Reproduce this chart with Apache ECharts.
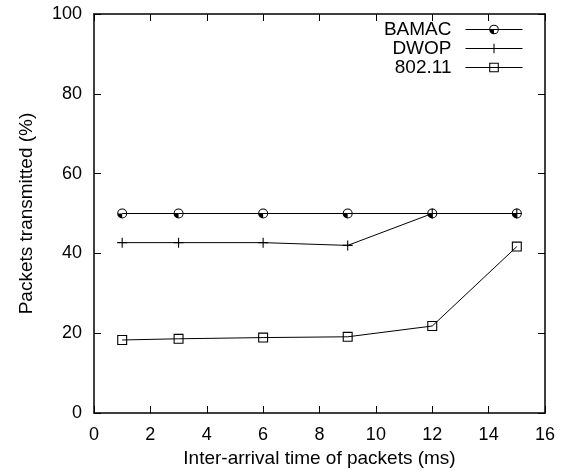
<!DOCTYPE html>
<html>
<head>
<meta charset="utf-8">
<script src="https://cdn.jsdelivr.net/npm/echarts@6/dist/echarts.min.js"></script>
<style>
  html, body { margin: 0; padding: 0; background: #fff; }
  #chart { width: 566px; height: 474px; }
</style>
</head>
<body>
<div id="chart"></div>
<script>
// Inter-arrival time of packets (ms)
const interArrival = [1, 3, 6, 9, 12, 15];
// Packets transmitted (%) per protocol
const bamac = [50, 50, 50, 50, 50, 50];
const dwop = [42.7, 42.7, 42.7, 42.0, 50, 50];
const ieee80211 = [18.3, 18.6, 18.9, 19.1, 21.8, 41.7];
const xTicks = [0, 2, 4, 6, 8, 10, 12, 14, 16];
const yTicks = [0, 20, 40, 60, 80, 100];

const FONT = '"Liberation Sans", Arial, Helvetica, sans-serif';

// Marker shapes: ring with a filled lower-left quadrant, thin plus, hollow square
const circleQuadrant = 'path://M0,10 A10,10 0 1,1 20,10 A10,10 0 1,1 0,10 Z ' +
  'M2,10 A8,8 0 1,0 18,10 A8,8 0 1,0 2,10 Z ' +
  'M10,10 L2,10 A8,8 0 0,0 10,18 Z';
const plusMark = 'path://M0,4.45 L10,4.45 L10,5.55 L0,5.55 Z M4.45,0 L5.55,0 L5.55,10 L4.45,10 Z';
const squareMark = 'path://M0,0 L10,0 L10,10 L0,10 Z M1.1,1.1 L1.1,8.9 L8.9,8.9 L8.9,1.1 Z';

const pairs = ys => interArrival.map((x, i) => [x, ys[i]]);

function lineSeries(name, ys, symbol, size) {
  return {
    name: name,
    type: 'line',
    data: pairs(ys),
    symbol: symbol,
    symbolSize: size,
    showSymbol: true,
    lineStyle: { color: '#000', width: 1 },
    itemStyle: { color: '#000', borderWidth: 0 },
    emphasis: { disabled: true },
    animation: false
  };
}

const axisLine = { show: true, onZero: false, lineStyle: { color: '#000', width: 1.5 } };
const innerTick = { show: true, inside: true, length: 7, lineStyle: { color: '#000', width: 1 } };

const chart = echarts.init(document.getElementById('chart'), null, { renderer: 'canvas' });
chart.setOption({
  backgroundColor: '#fff',
  animation: false,
  textStyle: { fontFamily: FONT },
  grid: { left: 94, right: 21, top: 14, bottom: 61, containLabel: false },
  legend: {
    orient: 'vertical',
    right: 43,
    top: 20,
    align: 'right',
    itemWidth: 57,
    itemHeight: 12,
    itemGap: 0,
    padding: 0,
    selectedMode: false,
    lineStyle: { width: 1 },
    textStyle: { fontFamily: FONT, fontSize: 19, color: '#000', padding: [0, 9, 0, 0] },
    data: ['BAMAC', 'DWOP', '802.11']
  },
  xAxis: [{
    type: 'value',
    min: xTicks[0],
    max: xTicks[xTicks.length - 1],
    interval: xTicks[1] - xTicks[0],
    name: 'Inter-arrival time of packets (ms)',
    nameLocation: 'middle',
    nameGap: 33,
    nameTextStyle: { fontFamily: FONT, fontSize: 19, color: '#000' },
    axisLine: axisLine,
    axisTick: innerTick,
    axisLabel: { fontFamily: FONT, fontSize: 18, color: '#000', margin: 13 },
    splitLine: { show: false }
  }, {
    type: 'value',
    position: 'top',
    min: xTicks[0],
    max: xTicks[xTicks.length - 1],
    interval: xTicks[1] - xTicks[0],
    axisLine: axisLine,
    axisTick: innerTick,
    axisLabel: { show: false },
    splitLine: { show: false }
  }],
  yAxis: [{
    type: 'value',
    min: yTicks[0],
    max: yTicks[yTicks.length - 1],
    interval: yTicks[1] - yTicks[0],
    name: 'Packets transmitted (%)',
    nameLocation: 'middle',
    nameGap: 58,
    nameTextStyle: { fontFamily: FONT, fontSize: 19, color: '#000' },
    axisLine: axisLine,
    axisTick: innerTick,
    axisLabel: { fontFamily: FONT, fontSize: 18, color: '#000', margin: 12 },
    splitLine: { show: false }
  }, {
    type: 'value',
    position: 'right',
    min: yTicks[0],
    max: yTicks[yTicks.length - 1],
    interval: yTicks[1] - yTicks[0],
    axisLine: axisLine,
    axisTick: innerTick,
    axisLabel: { show: false },
    splitLine: { show: false }
  }],
  series: [
    lineSeries('BAMAC', bamac, circleQuadrant, 10),
    lineSeries('DWOP', dwop, plusMark, 10),
    lineSeries('802.11', ieee80211, squareMark, 10)
  ]
});
</script>
</body>
</html>
